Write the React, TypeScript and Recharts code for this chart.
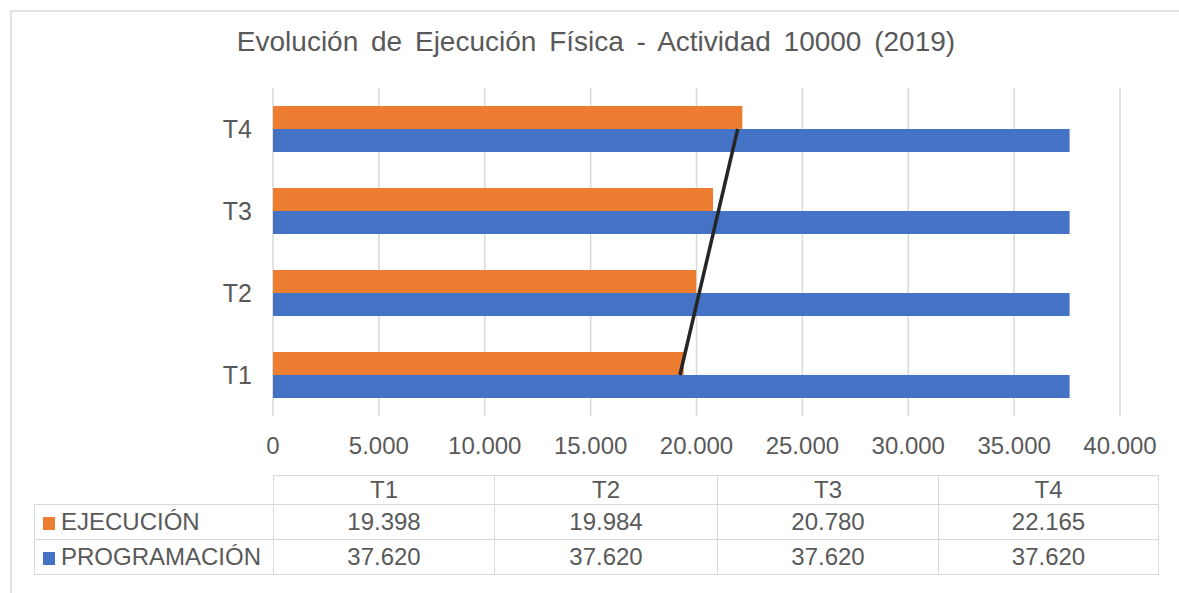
import React from "react";
import {
  ComposedChart,
  Bar,
  Line,
  XAxis,
  YAxis,
  CartesianGrid,
} from "recharts";

const TRIMESTRES = ["T1", "T2", "T3", "T4"];
const EJECUCION = [19398, 19984, 20780, 22165];
const PROGRAMACION = [37620, 37620, 37620, 37620];
// linear trend of EJECUCIÓN
const TENDENCIA = [19217, 20127, 21037, 21946];
const X_TICKS = [0, 5000, 10000, 15000, 20000, 25000, 30000, 35000, 40000];

const ORANGE = "#ED7D31";
const BLUE = "#4472C4";
const TEXT = "#595959";
const GRID = "#d9d9d9";
const FONT = "'Liberation Sans', Arial, sans-serif";

const fmt = (n: number) => n.toLocaleString("de-DE");

const data = TRIMESTRES.map((t, i) => ({
  cat: t,
  ejec: EJECUCION[i],
  prog: PROGRAMACION[i],
  trend: TENDENCIA[i],
}));

const cellBorder = `1px solid ${GRID}`;

function DataTable() {
  const td: React.CSSProperties = {
    border: cellBorder,
    textAlign: "center",
    padding: 0,
  };
  const rows = [
    { name: "EJECUCIÓN", color: ORANGE, values: EJECUCION },
    { name: "PROGRAMACIÓN", color: BLUE, values: PROGRAMACION },
  ];
  return (
    <table
      style={{
        position: "absolute",
        left: 34,
        top: 475,
        borderCollapse: "collapse",
        tableLayout: "fixed",
        fontFamily: FONT,
        fontSize: 24,
        color: TEXT,
        width: 1124,
      }}
    >
      <colgroup>
        <col style={{ width: 239 }} />
        <col style={{ width: 221 }} />
        <col style={{ width: 223 }} />
        <col style={{ width: 221 }} />
        <col style={{ width: 220 }} />
      </colgroup>
      <tbody>
        <tr style={{ height: 29 }}>
          <td style={{ border: "none" }} />
          {TRIMESTRES.map((t) => (
            <td key={t} style={td}>
              {t}
            </td>
          ))}
        </tr>
        {rows.map((r) => (
          <tr key={r.name} style={{ height: 35 }}>
            <td style={{ ...td, textAlign: "left", whiteSpace: "nowrap" }}>
              <span
                style={{
                  display: "inline-block",
                  width: 12,
                  height: 13,
                  background: r.color,
                  marginLeft: 8,
                  marginRight: 6,
                }}
              />
              {r.name}
            </td>
            {r.values.map((v, i) => (
              <td key={i} style={td}>
                {fmt(v)}
              </td>
            ))}
          </tr>
        ))}
      </tbody>
    </table>
  );
}

export default function App() {
  return (
    <div
      style={{
        position: "fixed",
        left: 0,
        top: 0,
        width: 1179,
        height: 593,
        overflow: "hidden",
        background: "#fff",
        fontFamily: FONT,
      }}
    >
      <div
        style={{
          position: "absolute",
          left: 10,
          top: 10,
          width: 1300,
          height: 700,
          border: `2px solid #e2e2e2`,
        }}
      />
      <div
        style={{
          position: "absolute",
          left: 0,
          width: 1192,
          top: 26,
          textAlign: "center",
          fontSize: 28,
          wordSpacing: 5,
          color: TEXT,
          whiteSpace: "nowrap",
        }}
      >
        Evolución de Ejecución Física - Actividad 10000 (2019)
      </div>
      <div style={{ position: "absolute", left: 0, top: 0 }}>
        <ComposedChart
          width={1179}
          height={593}
          data={data}
          layout="vertical"
          margin={{ top: 88, right: 59, bottom: 137, left: 0 }}
          barCategoryGap="22%"
          barGap={0}
        >
          <CartesianGrid horizontal={false} stroke={GRID} strokeWidth={1.5} />
          <XAxis
            type="number"
            domain={[0, 40000]}
            ticks={X_TICKS}
            tickFormatter={fmt}
            axisLine={false}
            tickLine={false}
            tickMargin={15}
            height={40}
            interval={0}
            tick={{ fill: TEXT, fontSize: 24, fontFamily: FONT }}
          />
          <YAxis
            type="category"
            dataKey="cat"
            reversed
            width={273}
            axisLine={false}
            tickLine={false}
            tickMargin={15}
            tick={{ fill: TEXT, fontSize: 25, fontFamily: FONT }}
          />
          <Bar dataKey="ejec" fill={ORANGE} isAnimationActive={false} />
          <Bar dataKey="prog" fill={BLUE} isAnimationActive={false} />
          <Line
            dataKey="trend"
            stroke="#262626"
            strokeWidth={3.5}
            dot={false}
            isAnimationActive={false}
          />
        </ComposedChart>
      </div>
      <DataTable />
    </div>
  );
}
